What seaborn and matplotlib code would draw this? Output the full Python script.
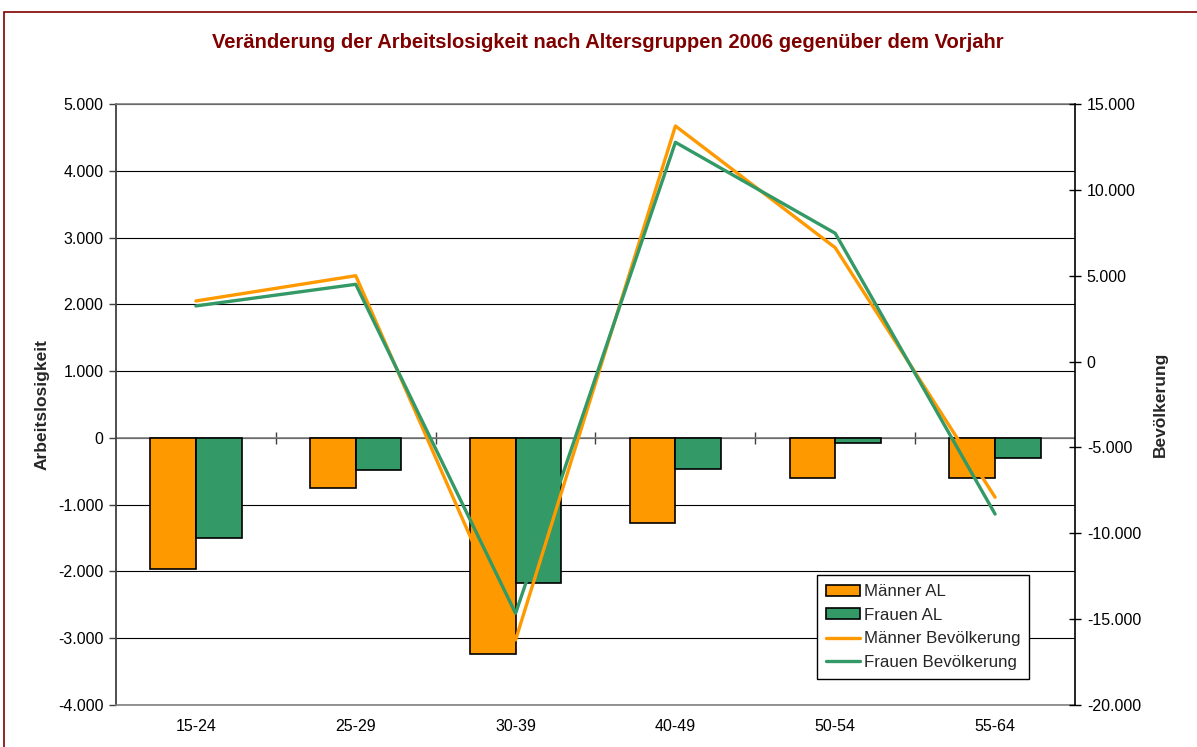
import numpy as np
import pandas as pd
import seaborn as sns
import matplotlib.pyplot as plt
from matplotlib.patches import Patch, Rectangle
from matplotlib.lines import Line2D
from matplotlib.ticker import FuncFormatter

categories = ["15-24", "25-29", "30-39", "40-49", "50-54", "55-64"]
maenner_al = [-1970, -749, -3234, -1281, -599, -608]
frauen_al = [-1497, -484, -2171, -464, -79, -304]
maenner_bev = [3530, 5000, -16210, 13720, 6630, -7900]
frauen_bev = [3240, 4500, -14660, 12770, 7470, -8880]

orange = "#FF9900"
green = "#339966"
title_color = "#800000"

sns.set_theme(style="white")
plt.rcParams['font.family'] = ['Liberation Sans', 'DejaVu Sans']

W, H = 1197, 747
fig = plt.figure(figsize=(W / 100, H / 100), dpi=100)
fig.patch.set_facecolor("white")
ax = fig.add_axes([116 / W, 1 - 705 / H, 959 / W, 601 / H])

df = pd.DataFrame({
    "Altersgruppe": categories * 2,
    "Wert": maenner_al + frauen_al,
    "Serie": ["Männer AL"] * len(categories) + ["Frauen AL"] * len(categories),
})
sns.barplot(data=df, x="Altersgruppe", y="Wert", hue="Serie",
            palette=[orange, green], width=4 / 7, gap=0, saturation=1,
            edgecolor="black", linewidth=1.2, legend=False, ax=ax, zorder=3)

ax.set_xlim(-0.5, len(categories) - 0.5)
ax.set_ylim(-4000, 5000)
ax.set_yticks(range(-4000, 5001, 1000))
fmt = FuncFormatter(lambda v, p: f"{int(v):,}".replace(",", "."))
ax.yaxis.set_major_formatter(fmt)
ax.grid(axis="y", color="black", linewidth=0.8)
ax.grid(axis="x", visible=False)
ax.set_axisbelow(True)
ax.set_xlabel("")
ax.set_ylabel("Arbeitslosigkeit", fontsize=12.5, fontweight="bold")
ax.yaxis.set_label_coords(-(116 - 50) / 959, 0.5)

for s in ["top", "bottom"]:
    ax.spines[s].set_color("#808080")
    ax.spines[s].set_linewidth(1.2)
ax.spines["left"].set_color("#404040")
ax.spines["left"].set_linewidth(1.3)
ax.spines["right"].set_visible(False)

ax.tick_params(axis="y", left=True, direction="out", length=5, width=1,
               color="#404040", labelsize=11.5, pad=4, labelcolor="black")
ax.tick_params(axis="x", bottom=False, length=0, labelsize=11.5, pad=10,
               labelcolor="black")

# zero axis with category boundary ticks
ax.axhline(0, color="#808080", linewidth=1.2, zorder=2)
sec = ax.secondary_xaxis(4 / 9)
sec.set_xticks([i + 0.5 for i in range(len(categories) - 1)])
sec.tick_params(direction="inout", length=8, width=1, color="#404040",
                labelbottom=False, labeltop=False)
for s in sec.spines.values():
    s.set_visible(False)

ax2 = ax.twinx()
x = np.arange(len(categories))
sns.lineplot(x=x, y=maenner_bev, color=orange, linewidth=2.4, ax=ax2)
sns.lineplot(x=x, y=frauen_bev, color=green, linewidth=2.4, ax=ax2)
ax2.set_ylim(-20000, 15000)
ax2.set_yticks(range(-20000, 15001, 5000))
ax2.yaxis.set_major_formatter(fmt)
ax2.grid(False)
ax2.set_ylabel("Bevölkerung", fontsize=12.5, fontweight="bold")
ax2.yaxis.set_label_coords(1 + (1153 - 1075) / 959, 0.5)
for s in ["top", "bottom", "left"]:
    ax2.spines[s].set_visible(False)
ax2.spines["right"].set_color("black")
ax2.spines["right"].set_linewidth(1.2)
ax2.tick_params(axis="y", right=True, direction="inout", length=9, width=1,
                color="black", labelsize=11.5, pad=4, labelcolor="black")

fig.suptitle("Veränderung der Arbeitslosigkeit nach Altersgruppen 2006 gegenüber dem Vorjahr",
             x=(213 + 1003) / 2 / W, y=1 - 43 / H, va="center",
             fontsize=14.5, fontweight="bold", color=title_color)

handles = [
    Patch(facecolor=orange, edgecolor="black", linewidth=1.2),
    Patch(facecolor=green, edgecolor="black", linewidth=1.2),
    Line2D([], [], color=orange, linewidth=2.4),
    Line2D([], [], color=green, linewidth=2.4),
]
labels = ["Männer AL", "Frauen AL", "Männer Bevölkerung", "Frauen Bevölkerung"]
leg = fig.legend(handles, labels, loc="upper left",
                 bbox_to_anchor=(817 / W, 1 - 575 / H), frameon=True,
                 fancybox=False, edgecolor="black", fontsize=12.2,
                 handlelength=2.0, handleheight=0.6, handletextpad=0.2,
                 labelspacing=0.5, borderpad=0.55, borderaxespad=0)
leg.get_frame().set_linewidth(1)
leg.get_frame().set_alpha(1)

fig.patches.append(Rectangle((4 / W, -0.1), 1.2, 1 - 12 / H + 0.1,
                             transform=fig.transFigure, fill=False,
                             edgecolor=title_color, linewidth=1.2))

fig.savefig("out.png", dpi=100)
